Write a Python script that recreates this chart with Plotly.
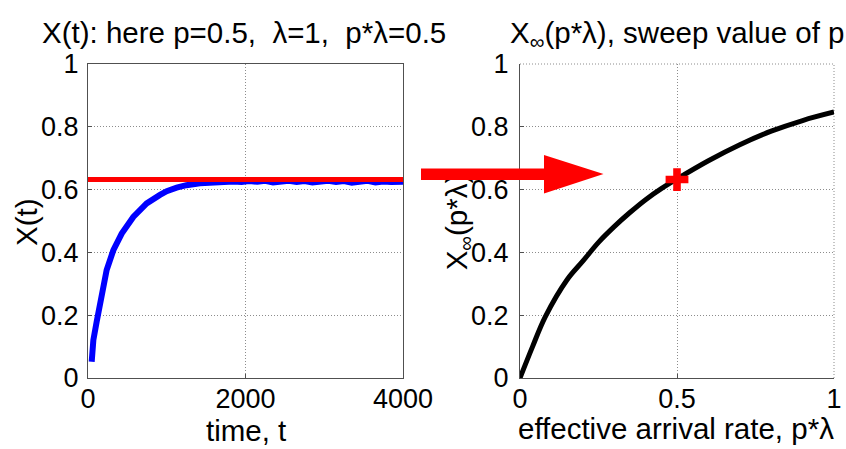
import plotly.graph_objects as go

# ---------------- data ----------------
# left panel: simulated X(t)
time_t = [47, 68, 110, 174, 237, 322, 428, 575, 745, 914, 1000, 1126, 1250, 1422, 1600, 1761,
          1850, 1950, 2050, 2150, 2250, 2350, 2450, 2550, 2650, 2750, 2850,
          2950, 3050, 3150, 3250, 3350, 3450, 3550, 3650, 3750, 3850, 3950, 4000]
x_t = [0.052, 0.121, 0.179, 0.270, 0.344, 0.407, 0.460, 0.513, 0.556, 0.583, 0.595, 0.606, 0.614, 0.620, 0.623, 0.624,
       0.626, 0.624, 0.627, 0.625, 0.628, 0.623, 0.626, 0.628, 0.624, 0.627, 0.623,
       0.626, 0.628, 0.624, 0.627, 0.622, 0.625, 0.628, 0.623, 0.626, 0.624, 0.627, 0.625]
limit_t = [0, 4000]
limit_x = [0.632, 0.632]

# right panel: X_inf as function of effective arrival rate
rate = [0.0, 0.04, 0.08, 0.15, 0.2, 0.25, 0.3, 0.35, 0.4, 0.45, 0.5,
        0.6, 0.7, 0.8, 0.9, 1.0]
x_inf = [0.0, 0.100, 0.194, 0.313, 0.372, 0.432, 0.482, 0.527, 0.568, 0.603, 0.634,
         0.692, 0.743, 0.786, 0.820, 0.847]
mark_rate = [0.5]
mark_x = [0.632]

y_ticks = [0, 0.2, 0.4, 0.6, 0.8, 1]
y_ticktext = ["0", "0.2", "0.4", "0.6", "0.8", "1"]
t_ticks = [0, 2000, 4000]
t_ticktext = ["0", "2000", "4000"]
r_ticks = [0, 0.5, 1]
r_ticktext = ["0", "0.5", "1"]

# ---------------- layout helpers ----------------
W, H = 846, 449
L, R, T, B = 88, 12, 64, 71
PW, PH = W - L - R, H - T - B


def px(xp):
    return (xp - L) / PW


def py(yp):
    return (H - B - yp) / PH


FONT = "Arial, Liberation Sans, Helvetica, sans-serif"
FS = 27      # tick labels
FT = 29.5    # titles and axis labels
RED = "#ff0000"
GRID = "#8c8c8c"
GRID_DASH = "1px,2px"

fig = go.Figure()
fig.add_trace(go.Scatter(x=time_t, y=x_t, mode="lines",
                         line=dict(color="#0000ff", width=6),
                         xaxis="x", yaxis="y", showlegend=False))
fig.add_trace(go.Scatter(x=limit_t, y=limit_x, mode="lines",
                         line=dict(color=RED, width=5),
                         xaxis="x", yaxis="y", showlegend=False))
fig.add_trace(go.Scatter(x=rate, y=x_inf, mode="lines",
                         line=dict(color="black", width=5, shape="spline"),
                         xaxis="x2", yaxis="y2", showlegend=False))
fig.add_trace(go.Scatter(x=mark_rate, y=mark_x, mode="markers",
                         marker=dict(symbol="cross", size=19, color=RED,
                                     line=dict(width=0)),
                         xaxis="x2", yaxis="y2", showlegend=False))

axis_common = dict(
    showline=True, linecolor="#505050", linewidth=1,
    ticks="inside", ticklen=4, tickcolor="#505050",
    showgrid=True, gridcolor=GRID, griddash=GRID_DASH, gridwidth=1,
    zeroline=False, tickfont=dict(family=FONT, size=FS, color="black"),
    fixedrange=True,
)

fig.update_layout(
    width=W, height=H,
    margin=dict(l=L, r=R, t=T, b=B, autoexpand=False),
    paper_bgcolor="white", plot_bgcolor="white",
    font=dict(family=FONT, size=FS, color="black"),
    xaxis=dict(domain=[0, px(403)], range=[0, 4000], tickvals=t_ticks,
               ticktext=t_ticktext, mirror=True, anchor="y",
               ticklabelstandoff=-3, **axis_common),
    yaxis=dict(domain=[0, 1], range=[0, 1], tickvals=y_ticks,
               ticktext=y_ticktext, mirror=True, anchor="x",
               ticklabelstandoff=3, **axis_common),
    xaxis2=dict(domain=[px(520), 1], range=[0, 1], tickvals=r_ticks,
                ticktext=r_ticktext, mirror=False, anchor="y2",
                ticklabelstandoff=-3, **axis_common),
    yaxis2=dict(domain=[0, 1], range=[0, 1], tickvals=y_ticks,
                ticktext=y_ticktext, mirror=False, anchor="x2",
                ticklabelstandoff=5, **axis_common),
)

# dotted grid lines at the far edges of the right panel (top and right)
fig.add_shape(type="line", xref="x2 domain", yref="y2 domain", x0=1, x1=1, y0=0, y1=1,
              line=dict(color=GRID, width=1, dash=GRID_DASH), layer="below")
fig.add_shape(type="line", xref="x2 domain", yref="y2 domain", x0=0, x1=1, y0=1, y1=1,
              line=dict(color=GRID, width=1, dash=GRID_DASH), layer="below")

# right-panel y label drawn as shape label so that the arrow can cover it
fig.add_shape(type="rect", xref="paper", yref="paper",
              x0=px(440), x1=px(472), y0=py(292), y1=py(152),
              line=dict(width=0), fillcolor="rgba(0,0,0,0)", layer="above",
              label=dict(text="X<sub>∞</sub>(p*λ)", textangle=-90,
                         textposition="middle center",
                         font=dict(family=FONT, size=FT, color="black")))

# big red arrow between the panels
arrow_pts = [(421, 168.5), (544, 168.5), (544, 155), (603.5, 174),
             (544, 193.5), (544, 180), (421, 180)]
path = "M " + " L ".join(f"{px(a):.5f},{py(b):.5f}" for a, b in arrow_pts) + " Z"
fig.add_shape(type="path", xref="paper", yref="paper", path=path,
              fillcolor=RED, line=dict(width=0), layer="above")

# titles
ann = dict(xref="paper", yref="paper", showarrow=False,
           font=dict(family=FONT, size=FT, color="black"))
fig.add_annotation(text="X(t): here p=0.5,  λ=1,  p*λ=0.5",
                   x=px(244), y=py(33), xanchor="center", yanchor="middle", **ann)
fig.add_annotation(text="X<sub>∞</sub>(p*λ), sweep value of p",
                   x=px(677), y=py(35), xanchor="center", yanchor="middle", **ann)
fig.add_annotation(text="time, t", x=px(245.5), y=py(430),
                   xanchor="center", yanchor="middle", **ann)
fig.add_annotation(text="effective arrival rate, p*λ", x=px(676), y=py(428),
                   xanchor="center", yanchor="middle", **ann)
fig.add_annotation(text="X(t)", x=px(26), y=py(222), textangle=-90,
                   xanchor="center", yanchor="middle", **ann)

fig.write_html("out.html")
